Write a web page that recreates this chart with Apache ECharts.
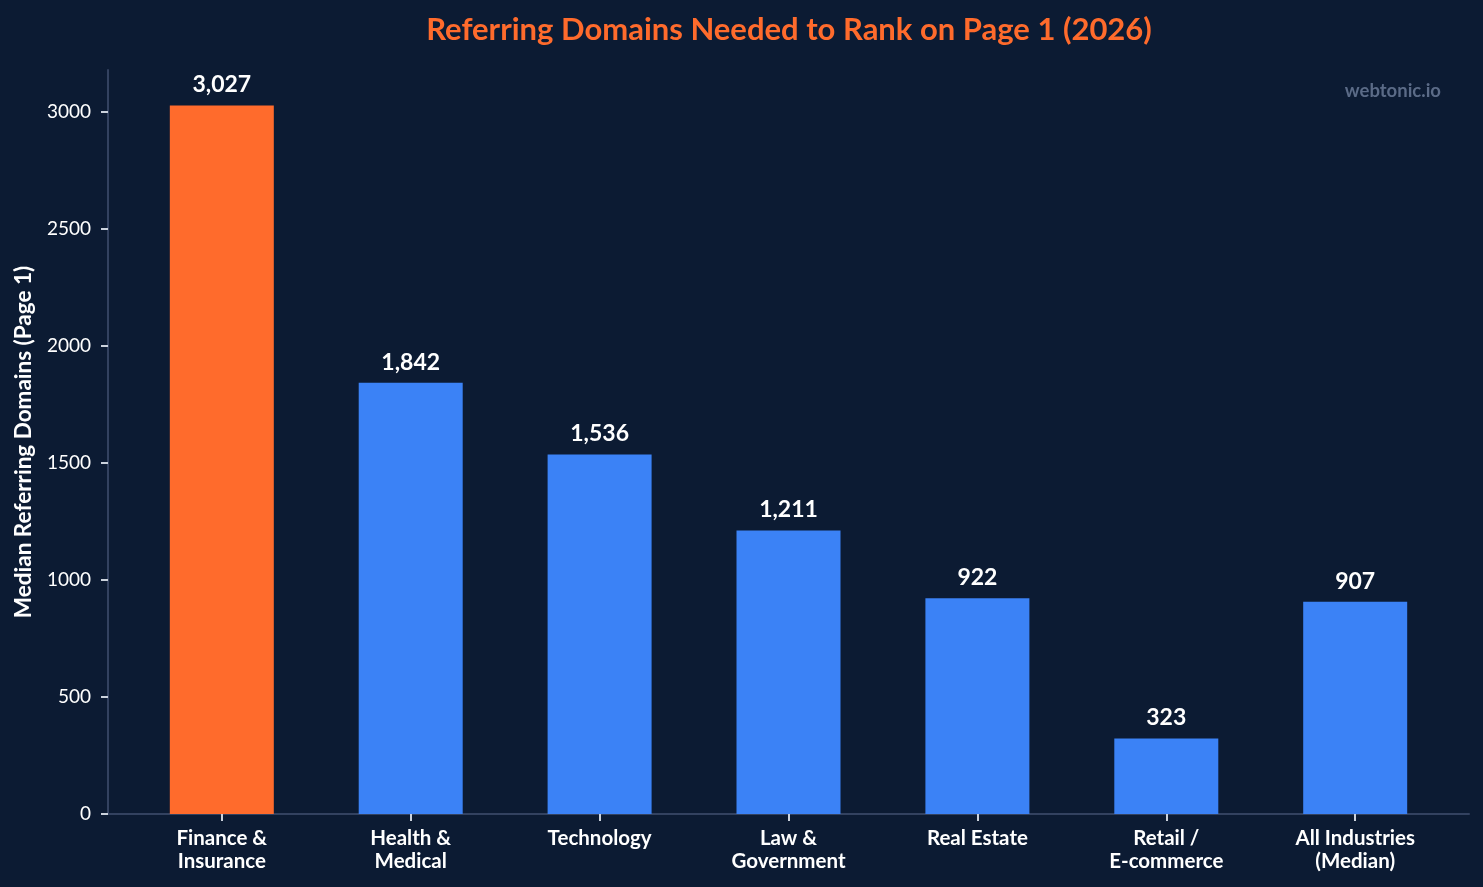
<!DOCTYPE html>
<html>
<head>
<meta charset="utf-8">
<script src="https://cdn.jsdelivr.net/npm/echarts@6/dist/echarts.min.js"></script>
<style>
  html, body { margin: 0; padding: 0; background: #0c1b33; }
  #chart { width: 1483px; height: 887px; }
</style>
</head>
<body>
<div id="chart"></div>
<script>
// data
var categories = ['Finance &\nInsurance', 'Health &\nMedical', 'Technology', 'Law &\nGovernment', 'Real Estate', 'Retail /\nE-commerce', 'All Industries\n(Median)'];
var values = [3027, 1842, 1536, 1211, 922, 323, 907];
var yTicks = [0, 500, 1000, 1500, 2000, 2500, 3000];

var ORANGE = '#ff6b2c';
var BLUE = '#3b82f6';

var chart = echarts.init(document.getElementById('chart'));

var barData = values.map(function (v, i) {
    return {
        value: [i, v],
        itemStyle: { color: i === 0 ? ORANGE : BLUE }
    };
});

var xPositions = categories.map(function (c, i) { return i; });

var option = {
    backgroundColor: '#0c1b33',
    textStyle: { fontFamily: 'Lato' },
    title: {
        text: 'Referring Domains Needed to Rank on Page 1 (2026)',
        left: 784,
        textAlign: 'center',
        top: 9,
        textStyle: { color: ORANGE, fontSize: 31, fontWeight: 'bold', fontFamily: 'Lato' }
    },
    graphic: [{
        type: 'text',
        right: 42,
        top: 82,
        style: { text: 'webtonic.io', fill: '#5b6b87', fontSize: 18.5, fontWeight: 'bold', fontFamily: 'Lato' }
    }],
    grid: { left: 108, right: 14, top: 70, bottom: 73, containLabel: false, outerBoundsMode: 'none' },
    xAxis: {
        type: 'value',
        min: -0.6025,
        max: 6.6025,
        splitLine: { show: false },
        axisLine: { show: true, onZero: false, lineStyle: { color: '#334260', width: 2 } },
        axisTick: { show: true, customValues: xPositions, length: 7, lineStyle: { color: '#cbd2dc', width: 2 } },
        axisLabel: {
            customValues: xPositions,
            color: '#ffffff',
            fontSize: 20.5,
            fontWeight: 'bold',
            lineHeight: 23,
            margin: 13,
            formatter: function (v) { return categories[Math.round(v)]; }
        }
    },
    yAxis: {
        type: 'value',
        min: 0,
        max: 3178.35,
        name: 'Median Referring Domains (Page 1)',
        nameLocation: 'middle',
        nameGap: 73,
        nameTextStyle: { color: '#ffffff', fontSize: 22.5, fontWeight: 'bold', fontFamily: 'Lato' },
        splitLine: { show: false },
        axisLine: { show: true, onZero: false, lineStyle: { color: '#334260', width: 2 } },
        axisTick: { show: true, customValues: yTicks, length: 7, lineStyle: { color: '#cbd2dc', width: 2 } },
        axisLabel: {
            customValues: yTicks,
            color: '#ffffff',
            fontSize: 19,
            margin: 17,
            formatter: function (v) { return String(v); }
        }
    },
    series: [{
        type: 'bar',
        data: barData,
        barWidth: 104,
        label: {
            show: true,
            position: 'top',
            distance: 9,
            color: '#ffffff',
            fontSize: 23,
            fontWeight: 'bold',
            fontFamily: 'Lato',
            formatter: function (p) { return p.value[1].toLocaleString('en-US'); }
        }
    }]
};

chart.setOption(option);
</script>
</body>
</html>
